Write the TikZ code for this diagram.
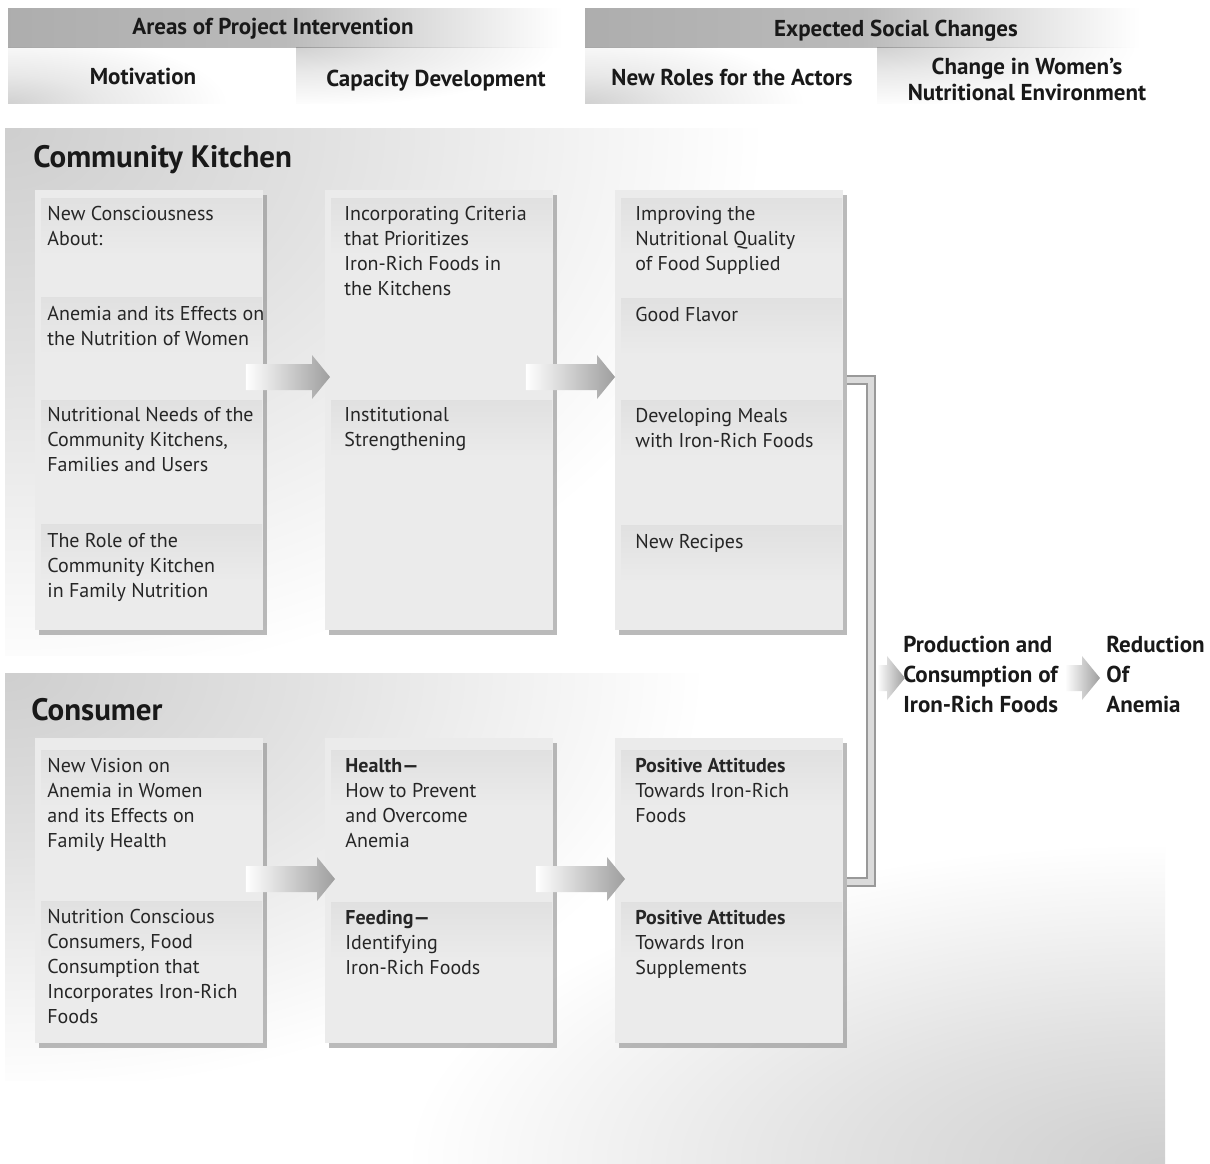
\documentclass[tikz,border=0pt]{standalone}
\usepackage{fontspec}
\setmainfont{PT Sans}
\usetikzlibrary{shadows,calc}

\pgfdeclarehorizontalshading{bandfade}{100bp}{color(0bp)=(black!32); color(25bp)=(black!32); color(50bp)=(black!27); color(75bp)=(white); color(100bp)=(white)}
\pgfdeclareradialshading{cornerglow}{\pgfpoint{0bp}{0bp}}{color(0bp)=(black!19); color(10bp)=(black!12); color(25bp)=(white); color(50bp)=(white)}
\pgfdeclareradialshading{cellglow}{\pgfpoint{0bp}{0bp}}{color(0bp)=(black!18); color(10bp)=(black!9); color(25bp)=(white); color(50bp)=(white)}

\newcommand{\blockarrow}[2]{%
  \shade[left color=white, right color=black!38] let \p1=#1, \p2=#2 in
    (\x1,\y1+6.5pt) -- (\x2-9pt,\y1+6.5pt) -- (\x2-9pt,\y1+11pt) -- (\x2,\y1)
    -- (\x2-9pt,\y1-11pt) -- (\x2-9pt,\y1-6.5pt) -- (\x1,\y1-6.5pt) -- cycle;}
\newcommand{\itempatch}[2]{%
  \shade[top color=black!12, bottom color=black!8]
    ($(#1.north west)+(6,#2)$) rectangle +(221,55);}
% clip path, centre, x radius, y radius, shading
\newcommand{\glow}[5]{%
  \begin{scope}[blend mode=multiply]
    \clip #1;
    \shade[shading=#5] #2 ellipse [x radius=#3, y radius=#4];
  \end{scope}}

\begin{document}
\begin{tikzpicture}[x=0.5pt,y=-0.5pt,
  box/.style={fill=black!8, anchor=north west, inner sep=0pt, minimum width=114pt,
    drop shadow={shadow xshift=2pt, shadow yshift=-2.5pt, fill=black!45, opacity=0.6}},
  ckbox/.style={box, minimum height=220pt},
  csbox/.style={box, minimum height=152.5pt},
  item/.style={anchor=north west, inner sep=0pt, align=left, text=black!85,
    font=\fontsize{10pt}{12.5pt}\selectfont},
  hdr/.style={anchor=base, inner sep=0pt, text=black!90,
    font=\bfseries\fontsize{11.5pt}{13pt}\selectfont},
  paneltitle/.style={anchor=base west, inner sep=0pt, text=black!90,
    font=\bfseries\fontsize{15.5pt}{18pt}\selectfont},
  result/.style={anchor=north west, inner sep=0pt, align=left, text=black!90,
    font=\bfseries\fontsize{11.5pt}{15pt}\selectfont},
  bracketout/.style={black!40, line width=5pt},
  bracketin/.style={black!14, line width=2.8pt}
]
\useasboundingbox (0,0) rectangle (1210,1163);
\fill[white] (0,0) rectangle (1210,1163);

% header bands
\shade[shading=bandfade] (8,8) rectangle (562,47);
\shade[shading=bandfade] (585,8) rectangle (1140,47);
\glow{(8,47) rectangle (296,103)}{(8,103)}{220}{70}{cellglow}
\glow{(296,47) rectangle (580,103)}{(296,47)}{260}{60}{cellglow}
\glow{(585,47) rectangle (877,103)}{(585,103)}{220}{70}{cellglow}
\glow{(877,47) rectangle (1165,103)}{(877,47)}{260}{60}{cellglow}

\node[hdr] (h1) at (273,34) {Areas of Project Intervention};
\node[hdr] (h1a) at (143,84) {Motivation};
\node[hdr] (h1b) at (436,86) {Capacity Development};
\node[hdr] (h2) at (896,36) {Expected Social Changes};
\node[hdr] (h2a) at (732,85) {New Roles for the Actors};
\node[hdr, anchor=north, align=center] (h2b) at (1027,56) {\strut Change in Women’s\\Nutritional Environment};

% panels
\glow{(5,128) rectangle (780,655)}{(5,128)}{760}{560}{cornerglow}
\glow{(5,673) rectangle (720,1080)}{(5,673)}{700}{420}{cornerglow}
\glow{(0,0) rectangle (1165,1163)}{(1165,1163)}{760}{320}{cornerglow}

\node[paneltitle] (ckt) at (33,167) {Community Kitchen};
\node[paneltitle] (cst) at (31,720) {Consumer};

% boxes
\node[ckbox] (ck1) at (35,190) {};
\node[ckbox] (ck2) at (325,190) {};
\node[ckbox] (ck3) at (615,190) {};
\node[csbox] (cs1) at (35,738) {};
\node[csbox] (cs2) at (325,738) {};
\node[csbox] (cs3) at (615,738) {};

% item patches
\itempatch{ck1}{8}\itempatch{ck1}{107}\itempatch{ck1}{210}\itempatch{ck1}{334}
\itempatch{ck2}{8}\itempatch{ck2}{210}
\itempatch{ck3}{8}\itempatch{ck3}{108}\itempatch{ck3}{210}\itempatch{ck3}{335}
\itempatch{cs1}{12}\itempatch{cs1}{163}
\itempatch{cs2}{12}\itempatch{cs2}{164}
\itempatch{cs3}{12}\itempatch{cs3}{164}

% community kitchen texts
\node[item] (t11) at (47,202.5) {\strut New Consciousness\\About:};
\node[item] (t12) at (47,302.5) {\strut Anemia and its Effects on\\the Nutrition of Women};
\node[item] (t13) at (47,403.5) {\strut Nutritional Needs of the\\Community Kitchens,\\Families and Users};
\node[item] (t14) at (47,529.5) {\strut The Role of the\\Community Kitchen\\in Family Nutrition};
\node[item] (t21) at (344,202.5) {\strut Incorporating Criteria\\that Prioritizes\\Iron-Rich Foods in\\the Kitchens};
\node[item] (t22) at (344,403.5) {\strut Institutional\\Strengthening};
\node[item] (t31) at (635,202.5) {\strut Improving the\\Nutritional Quality\\of Food Supplied};
\node[item] (t32) at (635,303.5) {\strut Good Flavor};
\node[item] (t33) at (635,404.5) {\strut Developing Meals\\with Iron-Rich Foods};
\node[item] (t34) at (635,530.5) {\strut New Recipes};

% consumer texts
\node[item] (u11) at (47,754.5) {\strut New Vision on\\Anemia in Women\\and its Effects on\\Family Health};
\node[item] (u12) at (47,905.5) {\strut Nutrition Conscious\\Consumers, Food\\Consumption that\\Incorporates Iron-Rich\\Foods};
\node[item] (u21) at (345,754.5) {\strut\textbf{Health—}\\How to Prevent\\and Overcome\\Anemia};
\node[item] (u22) at (345,906.5) {\strut\textbf{Feeding—}\\Identifying\\Iron-Rich Foods};
\node[item] (u31) at (635,754.5) {\strut\textbf{Positive Attitudes}\\Towards Iron-Rich\\Foods};
\node[item] (u32) at (635,906.5) {\strut\textbf{Positive Attitudes}\\Towards Iron\\Supplements};

% arrows between boxes
\blockarrow{($(ck1.north east)+(-18,187)$)}{($(ck2.north west)+(5,187)$)}
\blockarrow{($(ck2.north east)+(-28,187)$)}{($(ck3.north west)+(0,187)$)}
\blockarrow{($(cs1.north east)+(-18,141)$)}{($(cs2.north west)+(10,141)$)}
\blockarrow{($(cs2.north east)+(-18,141)$)}{($(cs3.north west)+(10,141)$)}

% results
\node[result] (prod) at (903,631.5) {\strut Production and\\Consumption of\\Iron-Rich Foods};
\node[result] (red) at (1106,631.5) {\strut Reduction\\Of\\Anemia};

% bracket
\coordinate (bt) at ($(ck3.north east)+(3,190)$);
\coordinate (bb) at ($(cs3.north east)+(3,144)$);
\coordinate (bj) at (871,678);
\draw[bracketout] (bt) -| (bj) |- (bb);
\draw[bracketin] (bt) -| (bj) |- (bb);

\blockarrow{($(bj)+(6,0)$)}{($(prod.north west)+(2,46.5)$)}
\blockarrow{($(red.north west)+(-41,46.5)$)}{($(red.north west)+(-6,46.5)$)}
\end{tikzpicture}
\end{document}
